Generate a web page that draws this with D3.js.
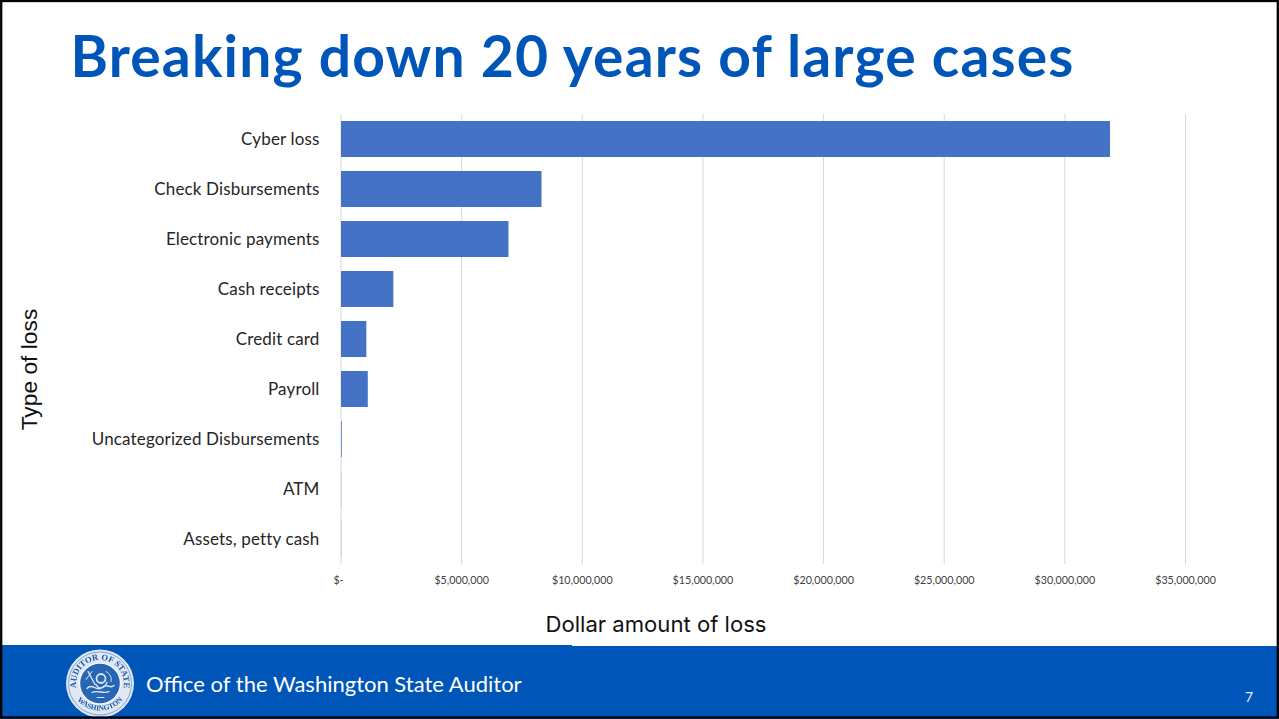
<!DOCTYPE html>
<html>
<head>
<meta charset="utf-8">
<script src="https://cdn.jsdelivr.net/npm/d3@7"></script>
<style>
  html, body { margin: 0; padding: 0; background: #fff; }
  svg { display: block; }
  text { font-family: Lato, "Open Sans", sans-serif; }
</style>
</head>
<body>
<svg id="slide" width="1279" height="719"></svg>
<script>
// Losses by type, in dollars
const categories = ["Cyber loss", "Check Disbursements", "Electronic payments", "Cash receipts",
  "Credit card", "Payroll", "Uncategorized Disbursements", "ATM", "Assets, petty cash"];
const lossValues = [31870000, 8310000, 6940000, 2170000, 1050000, 1110000, 30000, 8000, 8000];
const tickValues = [0, 5000000, 10000000, 15000000, 20000000, 25000000, 30000000, 35000000];

const svg = d3.select("#slide");
const blue = "#0055b8";

// Footer band
svg.append("rect").attr("x", 0).attr("y", 645).attr("width", 572).attr("height", 74).attr("fill", blue);
svg.append("rect").attr("x", 572).attr("y", 646).attr("width", 707).attr("height", 73).attr("fill", blue);

// Slide title
svg.append("text").attr("x", 70.5).attr("y", 77)
  .attr("font-size", 57).attr("font-weight", 700).attr("fill", blue)
  .attr("letter-spacing", 1.15)
  .text("Breaking down 20 years of large cases");

// Scales
const x = d3.scaleLinear().domain([0, 35000000]).range([341, 1185.5]);
const y = d3.scaleBand().domain(categories).range([114, 564]).paddingInner(0.28).paddingOuter(0.14);

// Vertical gridlines
svg.append("g").selectAll("line").data(tickValues).join("line")
  .attr("x1", d => x(d)).attr("x2", d => x(d))
  .attr("y1", 114).attr("y2", 564)
  .attr("stroke", "#d9d9d9").attr("stroke-width", 1);

// Bars
svg.append("g").selectAll("rect").data(categories).join("rect")
  .attr("x", x(0))
  .attr("y", d => y(d))
  .attr("width", (d, i) => x(lossValues[i]) - x(0))
  .attr("height", y.bandwidth())
  .attr("fill", "#4472c4");

// Dollar axis, gridlines stand in for ticks
const xAxis = d3.axisBottom(x).tickValues(tickValues).tickSize(0).tickPadding(0)
  .tickFormat(d => d === 0 ? "$-" : d3.format("$,")(d));
const gx = svg.append("g").attr("transform", "translate(-0.5,578)").call(xAxis);
gx.select(".domain").remove();
gx.selectAll("text").attr("font-size", 10.7).attr("fill", "#404040")
  .style("font-family", "Lato, sans-serif").attr("dy", "0.6em")
  .attr("text-anchor", "middle")
  .attr("dx", d => d === 0 ? -2.5 : 0);

// Category axis
const yAxis = d3.axisLeft(y).tickSize(0).tickPadding(21.5);
const gy = svg.append("g").attr("transform", "translate(341,1)").call(yAxis);
gy.select(".domain").remove();
gy.selectAll("text").attr("font-size", 17).attr("fill", "#262626")
  .attr("letter-spacing", 0.15)
  .style("font-family", "Lato, sans-serif");

// Axis titles
svg.append("text").attr("x", 656).attr("y", 632).attr("text-anchor", "middle")
  .attr("font-size", 22.1).attr("fill", "#111")
  .style("font-family", "Inter, sans-serif").text("Dollar amount of loss");
svg.append("text").attr("transform", "translate(37,369.5) rotate(-90)").attr("text-anchor", "middle")
  .attr("font-size", 22.8).attr("fill", "#111")
  .style("font-family", "Liberation Sans, sans-serif").text("Type of loss");

// Footer text
svg.append("text").attr("x", 146).attr("y", 692).attr("font-size", 22).attr("fill", "#fff")
  .text("Office of the Washington State Auditor");
svg.append("text").attr("x", 1249).attr("y", 702).attr("text-anchor", "middle")
  .attr("font-size", 14).attr("fill", "#e8eef8").text("7");

// Auditor's seal, soft edged like a small raster logo
const defs = svg.append("defs");
defs.append("filter").attr("id", "sealSoft").append("feGaussianBlur").attr("stdDeviation", 0.45);
defs.append("path").attr("id", "sealTop").attr("d", "M-19,15 A24,24 0 1 1 19,15");
defs.append("path").attr("id", "sealBottom").attr("d", "M-30,-3 A30,30 0 0 0 30,-3");
const seal = svg.append("g").attr("transform", "translate(100,683.5)").attr("filter", "url(#sealSoft)");
seal.append("circle").attr("r", 34).attr("fill", "#dfe8f4");
seal.append("circle").attr("r", 31.5).attr("fill", "none").attr("stroke", "#7fa4d4").attr("stroke-width", 1);
seal.append("circle").attr("r", 20.5).attr("fill", "#2566b4").attr("stroke", "#f4f7fb").attr("stroke-width", 1.4);
seal.append("text").attr("font-size", 8.6).attr("font-weight", 700).attr("fill", "#1a55a5")
  .style("font-family", "Liberation Serif, serif")
  .append("textPath").attr("href", "#sealTop").attr("startOffset", "50%").attr("text-anchor", "middle")
  .text("AUDITOR OF STATE");
seal.append("text").attr("font-size", 7.4).attr("font-weight", 700).attr("fill", "#1a55a5")
  .style("font-family", "Liberation Serif, serif")
  .append("textPath").attr("href", "#sealBottom").attr("startOffset", "50%").attr("text-anchor", "middle")
  .text("WASHINGTON");
// Central emblem
const emblem = seal.append("g").attr("fill", "none").attr("stroke", "#dbe6f3").attr("stroke-linecap", "round");
emblem.append("circle").attr("cx", 1).attr("cy", -5).attr("r", 4.5).attr("stroke-width", 1.8);
emblem.append("path").attr("stroke-width", 1.4).attr("d", "M-12,-12 L-5,1 M-13,5 C-8,-1 -3,9 2,4 C7,-1 10,6 14,2 M-8,9 C-3,6 4,11 9,8 M-4,1 C-1,6 4,6 7,-1");
emblem.append("path").attr("stroke-width", 1).attr("d", "M-14,-4 L-8,-12 M6,-12 C10,-10 12,-6 11,-2 M-3,14 L4,14");

// Slide frame
svg.append("rect").attr("x", 1.2).attr("y", 1).attr("width", 1276.6).attr("height", 716.5)
  .attr("fill", "none").attr("stroke", "#000").attr("stroke-width", 2.3);
</script>
</body>
</html>
